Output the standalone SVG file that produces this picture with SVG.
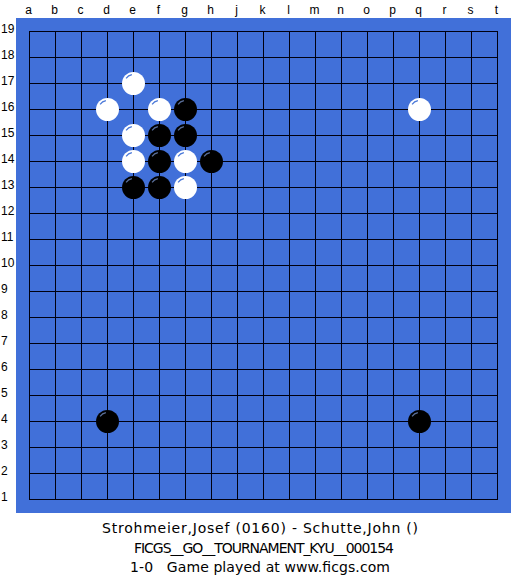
<svg xmlns="http://www.w3.org/2000/svg" width="525" height="575" viewBox="0 0 525 575">
<defs>
<style>
.lbl{font-family:"Liberation Sans",Arial,sans-serif;font-size:12px;fill:#000}
.cl{text-anchor:middle}
.info{font-family:"DejaVu Sans","Liberation Sans",sans-serif;font-size:14px;fill:#000;white-space:pre}
.grid{stroke:#000010;stroke-width:1;fill:none}
.w{fill:#fff}
.b{fill:#000}
.hw{fill:none;stroke:#4a78d8;stroke-width:1.2}
.hb{fill:none;stroke:#5a6f9a;stroke-width:1.2}
</style>
<g id="white-stone"><circle r="11.5" class="w"/><path d="M-7.4 -5.2 A9 9 0 0 1 -1.6 -8.9" class="hw"/></g>
<g id="black-stone"><circle r="11.5" class="b"/><path d="M-7.4 -5.2 A9 9 0 0 1 -1.6 -8.9" class="hb"/></g>
</defs>
<rect width="525" height="575" fill="#fff"/>
<rect id="board" x="16" y="18" width="495" height="495" fill="#4170d9"/>
<path class="grid" d="M29.5 31V500M55.5 31V500M81.5 31V500M107.5 31V500M133.5 31V500M159.5 31V500M185.5 31V500M211.5 31V500M237.5 31V500M263.5 31V500M289.5 31V500M315.5 31V500M341.5 31V500M367.5 31V500M393.5 31V500M419.5 31V500M445.5 31V500M471.5 31V500M497.5 31V500M29 31.5H498M29 57.5H498M29 83.5H498M29 109.5H498M29 135.5H498M29 161.5H498M29 187.5H498M29 213.5H498M29 239.5H498M29 265.5H498M29 291.5H498M29 317.5H498M29 343.5H498M29 369.5H498M29 395.5H498M29 421.5H498M29 447.5H498M29 473.5H498M29 499.5H498"/>
<g id="col-labels" class="lbl cl">
<text x="28.5" y="14">a</text><text x="54.5" y="14">b</text><text x="80.5" y="14">c</text><text x="106.5" y="14">d</text><text x="132.5" y="14">e</text><text x="158.5" y="14">f</text><text x="184.5" y="14">g</text><text x="210.5" y="14">h</text><text x="236.5" y="14">j</text><text x="262.5" y="14">k</text><text x="288.5" y="14">l</text><text x="314.5" y="14">m</text><text x="340.5" y="14">n</text><text x="366.5" y="14">o</text><text x="392.5" y="14">p</text><text x="418.5" y="14">q</text><text x="444.5" y="14">r</text><text x="470.5" y="14">s</text><text x="496.5" y="14">t</text>
</g>
<g id="row-labels" class="lbl">
<text x="1" y="33">19</text><text x="1" y="59">18</text><text x="1" y="85">17</text><text x="1" y="111">16</text><text x="1" y="137">15</text><text x="1" y="163">14</text><text x="1" y="189">13</text><text x="1" y="215">12</text><text x="1" y="241">11</text><text x="1" y="267">10</text><text x="1" y="293">9</text><text x="1" y="319">8</text><text x="1" y="345">7</text><text x="1" y="371">6</text><text x="1" y="397">5</text><text x="1" y="423">4</text><text x="1" y="449">3</text><text x="1" y="475">2</text><text x="1" y="501">1</text>
</g>
<g id="stone-e17"><use href="#white-stone" x="133.5" y="83.5"/></g>
<g id="stone-d16"><use href="#white-stone" x="107.5" y="109.5"/></g>
<g id="stone-f16"><use href="#white-stone" x="159.5" y="109.5"/></g>
<g id="stone-g16"><use href="#black-stone" x="185.5" y="109.5"/></g>
<g id="stone-q16"><use href="#white-stone" x="419.5" y="109.5"/></g>
<g id="stone-e15"><use href="#white-stone" x="133.5" y="135.5"/></g>
<g id="stone-f15"><use href="#black-stone" x="159.5" y="135.5"/></g>
<g id="stone-g15"><use href="#black-stone" x="185.5" y="135.5"/></g>
<g id="stone-e14"><use href="#white-stone" x="133.5" y="161.5"/></g>
<g id="stone-f14"><use href="#black-stone" x="159.5" y="161.5"/></g>
<g id="stone-g14"><use href="#white-stone" x="185.5" y="161.5"/></g>
<g id="stone-h14"><use href="#black-stone" x="211.5" y="161.5"/></g>
<g id="stone-e13"><use href="#black-stone" x="133.5" y="187.5"/></g>
<g id="stone-f13"><use href="#black-stone" x="159.5" y="187.5"/></g>
<g id="stone-g13"><use href="#white-stone" x="185.5" y="187.5"/></g>
<g id="stone-d4"><use href="#black-stone" x="107.5" y="421.5"/></g>
<g id="stone-q4"><use href="#black-stone" x="419.5" y="421.5"/></g>
<g id="connectors"/>
<g id="info" class="info">
<text x="102" y="533" textLength="316" lengthAdjust="spacing" xml:space="preserve">Strohmeier,Josef (0160) - Schutte,John ()</text>
<text x="134" y="552.5" textLength="260" lengthAdjust="spacing" xml:space="preserve">FICGS__GO__TOURNAMENT_KYU__000154</text>
<text x="130" y="572" textLength="260" lengthAdjust="spacing" xml:space="preserve">1-0   Game played at www.ficgs.com</text>
</g>
</svg>
